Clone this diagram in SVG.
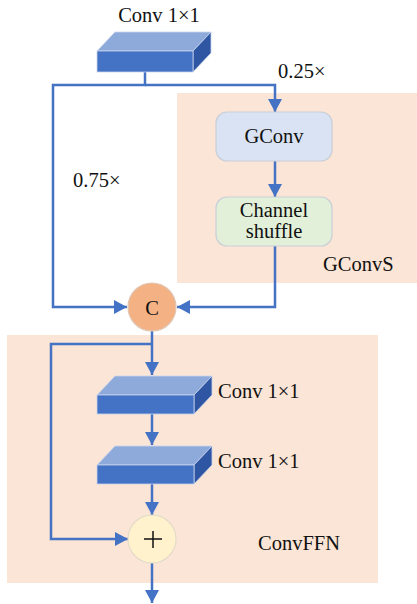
<svg xmlns="http://www.w3.org/2000/svg" width="417" height="604" viewBox="0 0 417 604">
<style>
.bg{fill:#fbe5d6;stroke:none}
.t{font-family:"Liberation Serif","Times New Roman",serif;font-size:20.5px;fill:#111}
.front{fill:#4472c4;stroke:#c9d4ec;stroke-width:0.8}
.top{fill:#8eaadb;stroke:#c9d4ec;stroke-width:0.8}
.side{fill:#2f56a3;stroke:#c9d4ec;stroke-width:0.8}
.ln{fill:none;stroke:#4472c4;stroke-width:2.5}
.box{stroke:#c9cfd8;stroke-width:1.2}
</style>
<defs>
<marker id="ah" markerUnits="userSpaceOnUse" markerWidth="14" markerHeight="14" viewBox="0 0 14 14" refX="13" refY="7" orient="auto">
<path d="M0,0 L13,7 L0,14 z" fill="#4472c4"/>
</marker>
</defs>
<rect class="bg" x="177" y="93" width="240" height="190"/>
<rect class="bg" x="7" y="335" width="371" height="248"/>
<g id="connectors">
<path class="ln" d="M145,72 V85 H53 V307 H127" marker-end="url(#ah)"/>
<path class="ln" d="M145,85 H275 V112" marker-end="url(#ah)"/>
<path class="ln" d="M275,161 V197" marker-end="url(#ah)"/>
<path class="ln" d="M275,246 V307 H177" marker-end="url(#ah)"/>
<path class="ln" d="M152,331 V375" marker-end="url(#ah)"/>
<path class="ln" d="M152,344 H51 V539 H128" marker-end="url(#ah)"/>
<path class="ln" d="M152,414 V445" marker-end="url(#ah)"/>
<path class="ln" d="M152,484 V515" marker-end="url(#ah)"/>
<path class="ln" d="M152,563 V603" marker-end="url(#ah)"/>
</g>
<g id="conv_top">
<polygon class="top" points="97,51 115,32 211,32 193,51"/>
<polygon class="side" points="193,51 211,32 211,53 193,72"/>
<rect class="front" x="97" y="51" width="96" height="21"/>
<text class="t" x="159" y="22" text-anchor="middle">Conv 1×1</text>
</g>
<g id="label_025"><text class="t" x="278" y="78">0.25×</text></g>
<g id="label_075"><text class="t" x="73" y="187">0.75×</text></g>
<g id="gconv">
<rect class="box" x="216" y="112" width="116" height="49" rx="11" fill="#dae3f3"/>
<text class="t" x="274" y="143" text-anchor="middle">GConv</text>
</g>
<g id="shuffle">
<rect class="box" x="216" y="197" width="116" height="49" rx="11" fill="#e2f0d9"/>
<text class="t" x="274" y="217" text-anchor="middle">Channel</text>
<text class="t" x="274" y="238" text-anchor="middle">shuffle</text>
</g>
<g id="gconvs_label"><text class="t" x="323" y="271">GConvS</text></g>
<g id="concat">
<circle cx="152" cy="307" r="24" fill="#f4b183" stroke="#e0c6b4" stroke-width="1.2"/>
<text class="t" x="152" y="315" text-anchor="middle" font-size="22">C</text>
</g>
<g id="conv2">
<polygon class="top" points="97,395 115,376 212,376 194,395"/>
<polygon class="side" points="194,395 212,376 212,395 194,414"/>
<rect class="front" x="97" y="395" width="97" height="19"/>
<text class="t" x="218" y="398">Conv 1×1</text>
</g>
<g id="conv3">
<polygon class="top" points="97,465 115,446 212,446 194,465"/>
<polygon class="side" points="194,465 212,446 212,465 194,484"/>
<rect class="front" x="97" y="465" width="97" height="19"/>
<text class="t" x="218" y="468">Conv 1×1</text>
</g>
<g id="add">
<circle cx="152" cy="539" r="24" fill="#fff2cc" stroke="#e3dcc8" stroke-width="1.2"/>
<path d="M144,539 H162 M153,531 V548" stroke="#111" stroke-width="1.5" fill="none"/>
</g>
<g id="convffn_label"><text class="t" x="258" y="550">ConvFFN</text></g>
</svg>
